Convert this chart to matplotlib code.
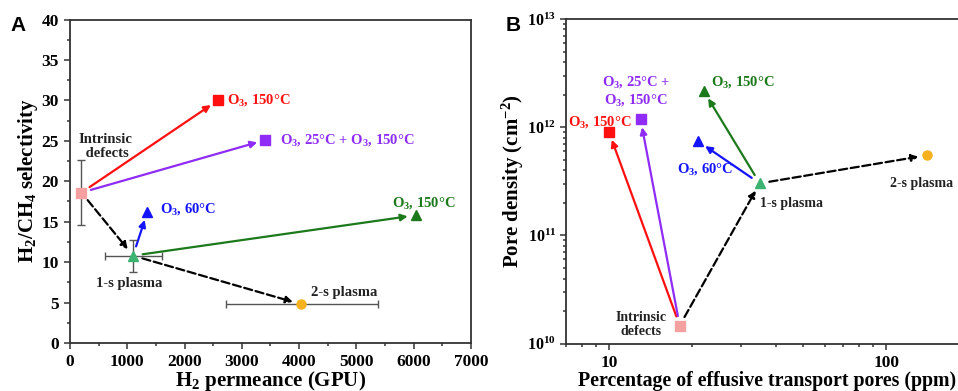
import numpy as np
import matplotlib
matplotlib.use('Agg')
import matplotlib.pyplot as plt
from matplotlib.ticker import MultipleLocator, LogLocator, NullFormatter

plt.rcParams['font.family'] = 'Liberation Serif'
plt.rcParams['font.weight'] = 'bold'
plt.rcParams['mathtext.fontset'] = 'custom'
plt.rcParams['mathtext.rm'] = 'Liberation Serif:bold'
plt.rcParams['mathtext.it'] = 'Liberation Serif:bold'
plt.rcParams['mathtext.bf'] = 'Liberation Serif:bold'

# ---- panel A data: H2 permeance (GPU) vs H2/CH4 selectivity
a_names = ['intrinsic', 'plasma1', 'plasma2', 'o3_150_red', 'o3_25_150', 'o3_60', 'o3_150_green']
a_perm = [200, 1100, 4030, 2580, 3410, 1350, 6040]
a_sel = [18.6, 10.8, 4.8, 30.0, 25.1, 16.2, 15.8]
a_perm_err_lo = [0, 490, 1310, 0, 0, 0, 0]
a_perm_err_hi = [0, 500, 1340, 0, 0, 0, 0]
a_sel_err_lo = [4.0, 2.0, 0, 0, 0, 0, 0]
a_sel_err_hi = [4.0, 1.9, 0, 0, 0, 0, 0]

# ---- panel B data: effusive pores (ppm) vs pore density (cm^-2)
b_names = ['intrinsic', 'plasma1', 'plasma2', 'o3_150_red', 'o3_25_150', 'o3_60', 'o3_150_green']
b_eff = [18.0, 35.0, 140.0, 10.0, 13.0, 21.0, 22.0]
b_dens = [1.47e10, 3.03e11, 5.5e11, 9.05e11, 1.19e12, 7.4e11, 2.15e12]

colors = {'intrinsic': '#f4a0a0', 'plasma1': '#3cb371', 'plasma2': '#f5b21e',
          'o3_150_red': '#ff1010', 'o3_25_150': '#8f2cf5', 'o3_60': '#1414ff',
          'o3_150_green': '#1c7a1c'}
markers = {'intrinsic': 's', 'plasma1': '^', 'plasma2': 'o', 'o3_150_red': 's',
           'o3_25_150': 's', 'o3_60': '^', 'o3_150_green': '^'}

# arrows: (from, to, colour, dashed)
arrows = [('intrinsic', 'o3_150_red', colors['o3_150_red'], False),
          ('intrinsic', 'o3_25_150', colors['o3_25_150'], False),
          ('plasma1', 'o3_60', colors['o3_60'], False),
          ('plasma1', 'o3_150_green', colors['o3_150_green'], False),
          ('intrinsic', 'plasma1', 'black', True),
          ('plasma1', 'plasma2', 'black', True)]

dark = '#222222'
fig = plt.figure(figsize=(9.58, 3.91), dpi=100)
axA = fig.add_axes([0.0731, 0.1228, 0.4185, 0.8272])
axB = fig.add_axes([0.5908, 0.121, 0.4213, 0.8304])


def draw_arrows(ax, xs, ys, names):
    idx = {n: i for i, n in enumerate(names)}
    for a, b, c, dashed in arrows:
        i, j = idx[a], idx[b]
        ax.annotate('', xy=(xs[j], ys[j]), xytext=(xs[i], ys[i]),
                    arrowprops=dict(arrowstyle='-|>', color=c, lw=1.6,
                                    linestyle='--' if dashed else '-',
                                    mutation_scale=10, shrinkA=7, shrinkB=6),
                    zorder=2)


# ---------------- panel A
draw_arrows(axA, a_perm, a_sel, a_names)
for i, n in enumerate(a_names):
    if a_perm_err_lo[i] or a_sel_err_lo[i]:
        xe = [[a_perm_err_lo[i]], [a_perm_err_hi[i]]] if a_perm_err_lo[i] else None
        ye = [[a_sel_err_lo[i]], [a_sel_err_hi[i]]] if a_sel_err_lo[i] else None
        axA.errorbar(a_perm[i], a_sel[i], xerr=xe, yerr=ye, fmt='none',
                     ecolor='#555555', elinewidth=1.0, capsize=3, zorder=3)
    axA.plot(a_perm[i], a_sel[i], marker=markers[n], color=colors[n],
             markersize=6.5, linestyle='none', zorder=4)

axA.set_xlim(0, 7000)
axA.set_ylim(0, 40)
axA.xaxis.set_major_locator(MultipleLocator(1000))
axA.xaxis.set_minor_locator(MultipleLocator(500))
axA.yaxis.set_major_locator(MultipleLocator(5))
axA.yaxis.set_minor_locator(MultipleLocator(2.5))
axA.set_xlabel('H$_2$ permeance (GPU)', fontsize=15, fontweight='bold')
axA.set_ylabel('H$_2$/CH$_4$ selectivity', fontsize=15, fontweight='bold')
axA.xaxis.set_label_coords(0.5, -0.081)
axA.yaxis.set_label_coords(-0.075, 0.5)

fs = 10.5
axA.text(2740, 30.0, 'O$_3$, 150°C', color=colors['o3_150_red'], fontsize=fs, va='center')
axA.text(3660, 25.1, 'O$_3$, 25°C + O$_3$, 150°C', color=colors['o3_25_150'], fontsize=fs, va='center')
axA.text(1570, 16.6, 'O$_3$, 60°C', color=colors['o3_60'], fontsize=fs, va='center')
axA.text(6180, 17.3, 'O$_3$, 150°C', color=colors['o3_150_green'], fontsize=fs, va='center', ha='center')
axA.text(620, 24.3, 'Intrinsic\n defects', color=dark, fontsize=fs, va='center', ha='center',
         linespacing=1.1)
axA.text(1025, 7.3, '1-s plasma', color=dark, fontsize=fs, va='center', ha='center')
axA.text(4780, 6.2, '2-s plasma', color=dark, fontsize=fs, va='center', ha='center')

# ---------------- panel B
draw_arrows(axB, b_eff, b_dens, b_names)
for i, n in enumerate(b_names):
    axB.plot(b_eff[i], b_dens[i], marker=markers[n], color=colors[n],
             markersize=6.5, linestyle='none', zorder=4)

axB.set_xscale('log')
axB.set_yscale('log')
axB.set_xlim(7, 200)
axB.set_ylim(1e10, 1e13)
axB.xaxis.set_minor_locator(LogLocator(base=10, subs=np.arange(2, 10)))
axB.xaxis.set_minor_formatter(NullFormatter())
axB.yaxis.set_minor_locator(LogLocator(base=10, subs=np.arange(2, 10)))
axB.yaxis.set_minor_formatter(NullFormatter())
axB.set_xticks([10, 100])
axB.set_xticklabels(['10', '100'])
axB.set_xlabel('Percentage of effusive transport pores (ppm)', fontsize=14.3, fontweight='bold')
axB.set_ylabel('Pore density (cm$^{-2}$)', fontsize=15, fontweight='bold')
axB.xaxis.set_label_coords(0.497, -0.083)
axB.yaxis.set_label_coords(-0.1, 0.5)

axB.text(12.5, 2.16e12, 'O$_3$, 25°C +\nO$_3$, 150°C', color=colors['o3_25_150'], fontsize=fs,
         va='center', ha='center', linespacing=1.15)
axB.text(23.3, 2.6e12, 'O$_3$, 150°C', color=colors['o3_150_green'], fontsize=fs, va='center')
axB.text(9.25, 1.11e12, 'O$_3$, 150°C', color=colors['o3_150_red'], fontsize=fs, va='center', ha='center')
axB.text(22.2, 4.1e11, 'O$_3$, 60°C', color=colors['o3_60'], fontsize=fs, va='center', ha='center')
axB.text(134, 3.05e11, '2-s plasma', color=dark, fontsize=10, va='center', ha='center')
axB.text(45.5, 1.99e11, '1-s plasma', color=dark, fontsize=10, va='center', ha='center')
axB.text(13.1, 1.5e10, 'Intrinsic\ndefects', color=dark, fontsize=10, va='center', ha='center',
         linespacing=1.15)

for ax in (axA, axB):
    for s in ax.spines.values():
        s.set_linewidth(1.3)
        s.set_color('#333333')
    ax.tick_params(which='both', direction='out', top=False, right=False,
                   labelsize=12.5, width=1.1, color='#333333')
    ax.tick_params(which='major', length=4.5)
    ax.tick_params(which='minor', length=2.5)
    for lab in ax.get_xticklabels() + ax.get_yticklabels():
        lab.set_fontweight('bold')
axB.tick_params(axis='y', labelsize=11.5, pad=2.5)

fig.text(0.019, 0.935, 'A', fontsize=15, fontweight='bold', family='Liberation Sans', va='center', ha='center')
fig.text(0.536, 0.935, 'B', fontsize=15, fontweight='bold', family='Liberation Sans', va='center', ha='center')

fig.savefig('out.png', dpi=100)
